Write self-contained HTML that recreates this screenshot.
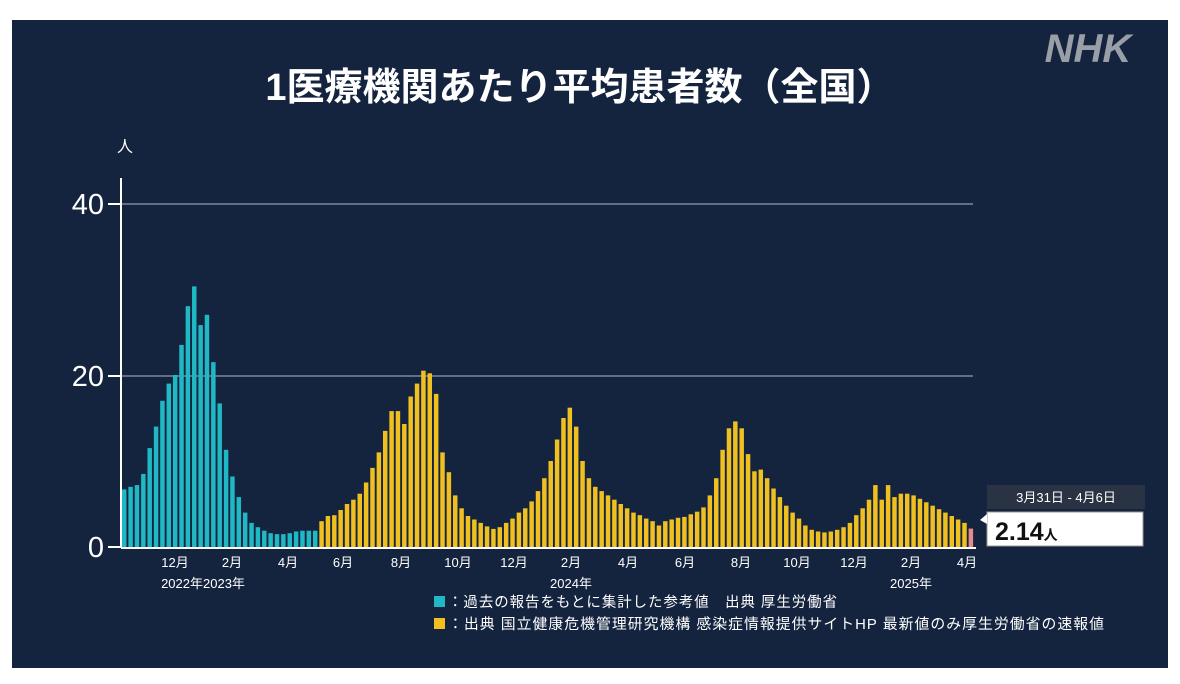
<!DOCTYPE html><html><head><meta charset="utf-8"><style>
body{margin:0;background:#fff;width:1180px;height:684px;overflow:hidden;font-family:"Liberation Sans","Noto Sans CJK JP",sans-serif}
</style></head><body>
<svg id="s" width="1180" height="684" xmlns="http://www.w3.org/2000/svg" style="position:absolute;left:0;top:0">
<rect x="12" y="20" width="1156" height="648" fill="#14243f"/>
<text x="580" y="100" fill="#fff" font-size="38" font-weight="bold" text-anchor="middle" font-family="Liberation Sans,Noto Sans CJK JP,sans-serif">1医療機関あたり平均患者数（全国）</text>
<text x="1088" y="62" fill="#9a9ea6" font-size="40" font-weight="bold" font-style="italic" text-anchor="middle" font-family="Liberation Sans,sans-serif">NHK</text>
<text x="125" y="152" fill="#fff" font-size="16" text-anchor="middle" font-family="Noto Sans CJK JP,sans-serif">人</text>
<line x1="122" y1="204" x2="973" y2="204" stroke="#7d8797" stroke-width="1.5"/>
<line x1="122" y1="376" x2="973" y2="376" stroke="#7d8797" stroke-width="1.5"/>
<g fill="#fff" font-size="29" text-anchor="end" font-family="Liberation Sans,sans-serif">
<text x="104" y="214">40</text><text x="104" y="386">20</text><text x="104" y="557">0</text></g>
<g stroke="#fff" stroke-width="2"><line x1="108" y1="204" x2="120" y2="204"/><line x1="108" y1="376" x2="120" y2="376"/><line x1="108" y1="547" x2="120" y2="547"/></g>
<g id="bars"></g>
<line x1="121" y1="178" x2="121" y2="548" stroke="#fff" stroke-width="2"/>
<line x1="121" y1="548" x2="976" y2="548" stroke="#fff" stroke-width="2"/>
<g fill="#fff" font-size="13" text-anchor="middle" font-family="Liberation Sans,Noto Sans CJK JP,sans-serif">
<text x="175" y="567">12月</text><text x="232" y="567">2月</text><text x="288" y="567">4月</text><text x="343" y="567">6月</text><text x="401" y="567">8月</text><text x="458" y="567">10月</text><text x="514" y="567">12月</text><text x="571" y="567">2月</text><text x="628" y="567">4月</text><text x="685" y="567">6月</text><text x="741" y="567">8月</text><text x="797" y="567">10月</text><text x="854" y="567">12月</text><text x="911" y="567">2月</text><text x="967" y="567">4月</text>
<text x="203" y="588">2022年2023年</text><text x="571" y="588">2024年</text><text x="911" y="588">2025年</text></g>
<rect x="434" y="596" width="11" height="11" fill="#1fb8c4"/>
<rect x="434" y="618" width="11" height="11" fill="#f0c020"/>
<g fill="#fff" font-size="14.5" letter-spacing="1" font-family="Liberation Sans,Noto Sans CJK JP,sans-serif">
<text x="448" y="607" textLength="390" lengthAdjust="spacingAndGlyphs">：過去の報告をもとに集計した参考値　出典 厚生労働省</text>
<text x="448" y="629" textLength="657" lengthAdjust="spacingAndGlyphs">：出典 国立健康危機管理研究機構 感染症情報提供サイトHP 最新値のみ厚生労働省の速報値</text></g>
<rect x="987" y="485" width="158" height="24" fill="#2a3344"/>
<text x="1066" y="502" fill="#fff" font-size="13" text-anchor="middle" font-family="Liberation Sans,Noto Sans CJK JP,sans-serif">3月31日 - 4月6日</text>
<rect x="987" y="512" width="156" height="34" fill="#fff" stroke="#999"/>
<polygon points="980,520 987,514 987,524" fill="#fff"/>
<text x="995" y="540" fill="#111" font-size="25" font-weight="bold" font-family="Liberation Sans,sans-serif">2.14<tspan font-size="14" font-family="Noto Sans CJK JP,sans-serif">人</tspan></text>
</svg>
<script>
var c=[6.7,7,7.2,8.5,11.5,14,17,19,20,23.5,28,30.3,25.8,27,21.5,16.7,11.3,8.2,5.8,4,2.8,2.3,1.9,1.6,1.5,1.5,1.6,1.8,1.9,1.9,1.9];
var y=[3,3.6,3.7,4.3,5,5.5,6.2,7.5,9.2,11,13.5,15.8,15.8,14.3,17.5,19,20.5,20.2,17.8,11,8.7,6,4.5,3.6,3.2,2.8,2.4,2.1,2.3,2.8,3.3,4,4.5,5.3,6.5,8,10,12.5,15,16.2,14,10,8,7,6.5,6,5.5,5,4.5,4,3.7,3.3,3,2.5,3,3.2,3.4,3.5,3.8,4.1,4.6,6,8,11.3,13.8,14.6,13.8,10.8,8.8,9,8,6.8,5.8,4.8,4,3.3,2.5,2,1.8,1.7,1.8,2,2.3,2.8,3.7,4.5,5.5,7.2,5.5,7.2,5.8,6.2,6.2,6,5.6,5.2,4.8,4.4,4,3.6,3.2,2.8];
var all=[];c.forEach(v=>all.push([v,'#1fb8c4']));y.forEach(v=>all.push([v,'#f0c020']));all.push([2.14,'#e88a8a']);
var n=all.length,x0=122,x1=975,w=(x1-x0)/n,h='';
all.forEach((d,i)=>{var ht=d[0]*8.6;h+='<rect x="'+(x0+i*w).toFixed(2)+'" y="'+(547-ht).toFixed(1)+'" width="'+(w*0.7).toFixed(2)+'" height="'+ht.toFixed(1)+'" fill="'+d[1]+'"/>';});
document.getElementById('bars').innerHTML=h;
</script>
</body></html>
